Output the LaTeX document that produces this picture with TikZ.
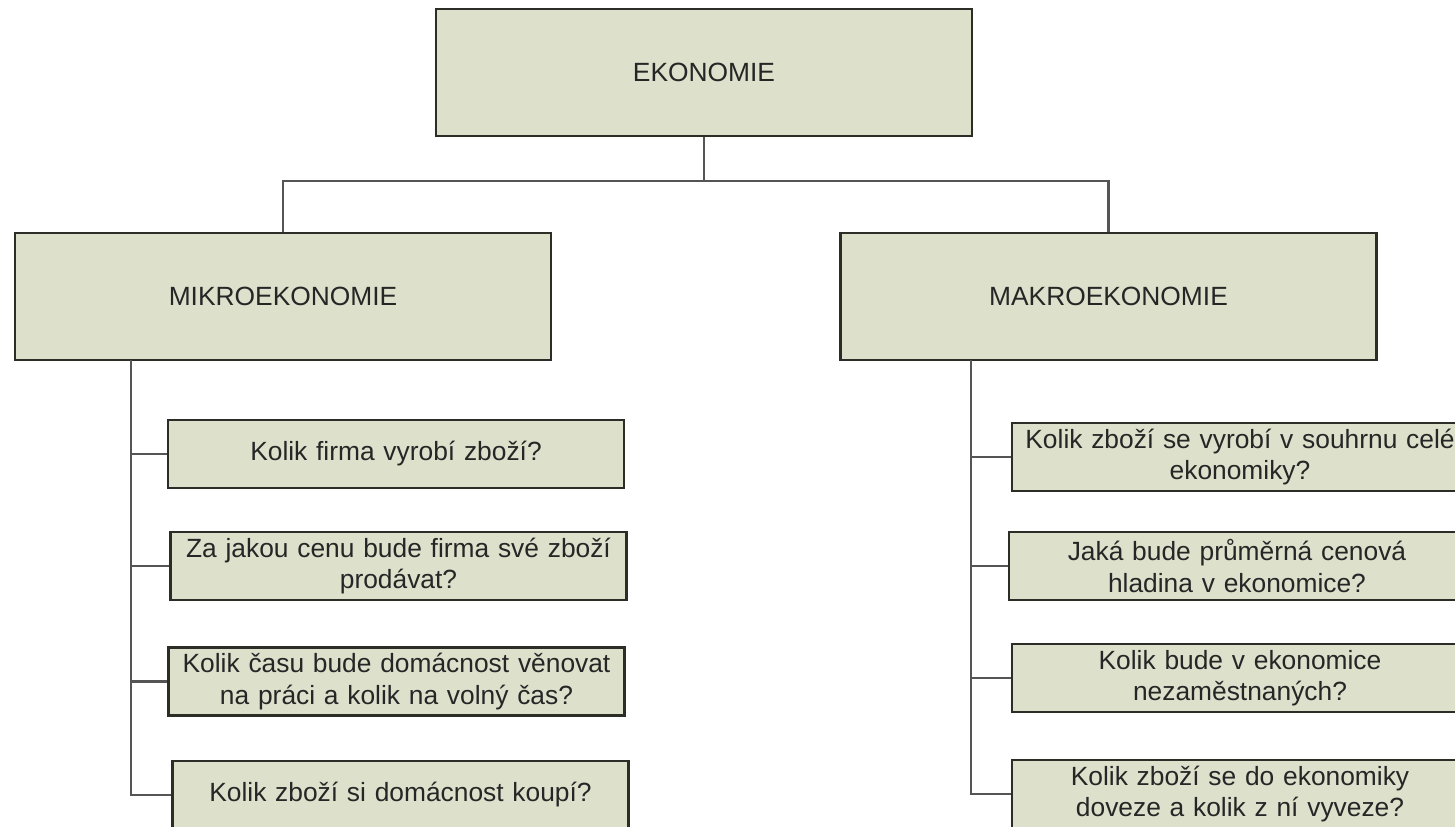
\documentclass[tikz,border=0pt]{standalone}
\usepackage{fontspec}
\setmainfont{Liberation Sans}
\usepackage{xcolor}

\definecolor{boxfill}{RGB}{221,224,203}
\definecolor{boxline}{RGB}{45,45,40}
\definecolor{connline}{RGB}{85,85,85}

\tikzset{
  mainbox/.style={draw=boxline, fill=boxfill, line width=1.4pt,
    minimum width=10.72cm, minimum height=2.54cm, inner sep=0pt,
    font=\fontsize{15}{18}\selectfont, text=black!85},
  qbox/.style={draw=boxline, fill=boxfill, line width=1.4pt,
    minimum width=9.12cm, minimum height=1.36cm, inner sep=0pt,
    text width=9.0cm, align=center,
    font=\fontsize{15}{18}\selectfont, text=black!85},
  conn/.style={draw=connline, line width=1.3pt}
}

\begin{document}
\begin{tikzpicture}[x=0.02cm, y=-0.02cm]
                \useasboundingbox (0,0) rectangle (1455,826);
                \clip (0,0) rectangle (1455,826);
                \fill[white] (0,0) rectangle (1455,826);

                % top level
                \node[mainbox] (ekon) at (704,72.5) {EKONOMIE};
                \node[mainbox] (mikro) at (283,296.5) {MIKROEKONOMIE};
                \node[mainbox] (makro) at (1108.5,296.5) {MAKROEKONOMIE};

                \coordinate (split) at (704,181);
                \draw[conn] (ekon.south) -- (split);
                \draw[conn] (mikro.north) |- (split) -| (makro.north);

                % microeconomics questions
                \node[qbox] (mi1) at (396,454) {Kolik firma vyrobí zboží?};
                \node[qbox] (mi2) at (398.5,566) {Za jakou cenu bude firma své zboží\\ prodávat?};
                \node[qbox] (mi3) at (396.5,681.5) {Kolik času bude domácnost věnovat\\ na práci a kolik na volný čas?};
                \node[qbox] (mi4) at (400.5,795) {Kolik zboží si domácnost koupí?};

                % macroeconomics questions
                \node[qbox] (ma1) at (1240,457) {Kolik zboží se vyrobí v souhrnu celé\\ ekonomiky?};
                \node[qbox] (ma2) at (1237,566) {Jaká bude průměrná cenová\\ hladina v ekonomice?};
                \node[qbox] (ma3) at (1240,678) {Kolik bude v ekonomice\\ nezaměstnaných?};
                \node[qbox] (ma4) at (1240,794) {Kolik zboží se do ekonomiky\\ doveze a kolik z ní vyveze?};

                \coordinate (ltop) at (131,360);
                \coordinate (rtop) at (971,360);

                \draw[conn] (ltop) |- (mi4.west);
                \draw[conn] (rtop) |- (ma4.west);
                \foreach \i in {1,2,3} {
                    \draw[conn] (ltop |- mi\i.west) -- (mi\i.west);
                    \draw[conn] (rtop |- ma\i.west) -- (ma\i.west);
                }
            \end{tikzpicture}
\end{document}
